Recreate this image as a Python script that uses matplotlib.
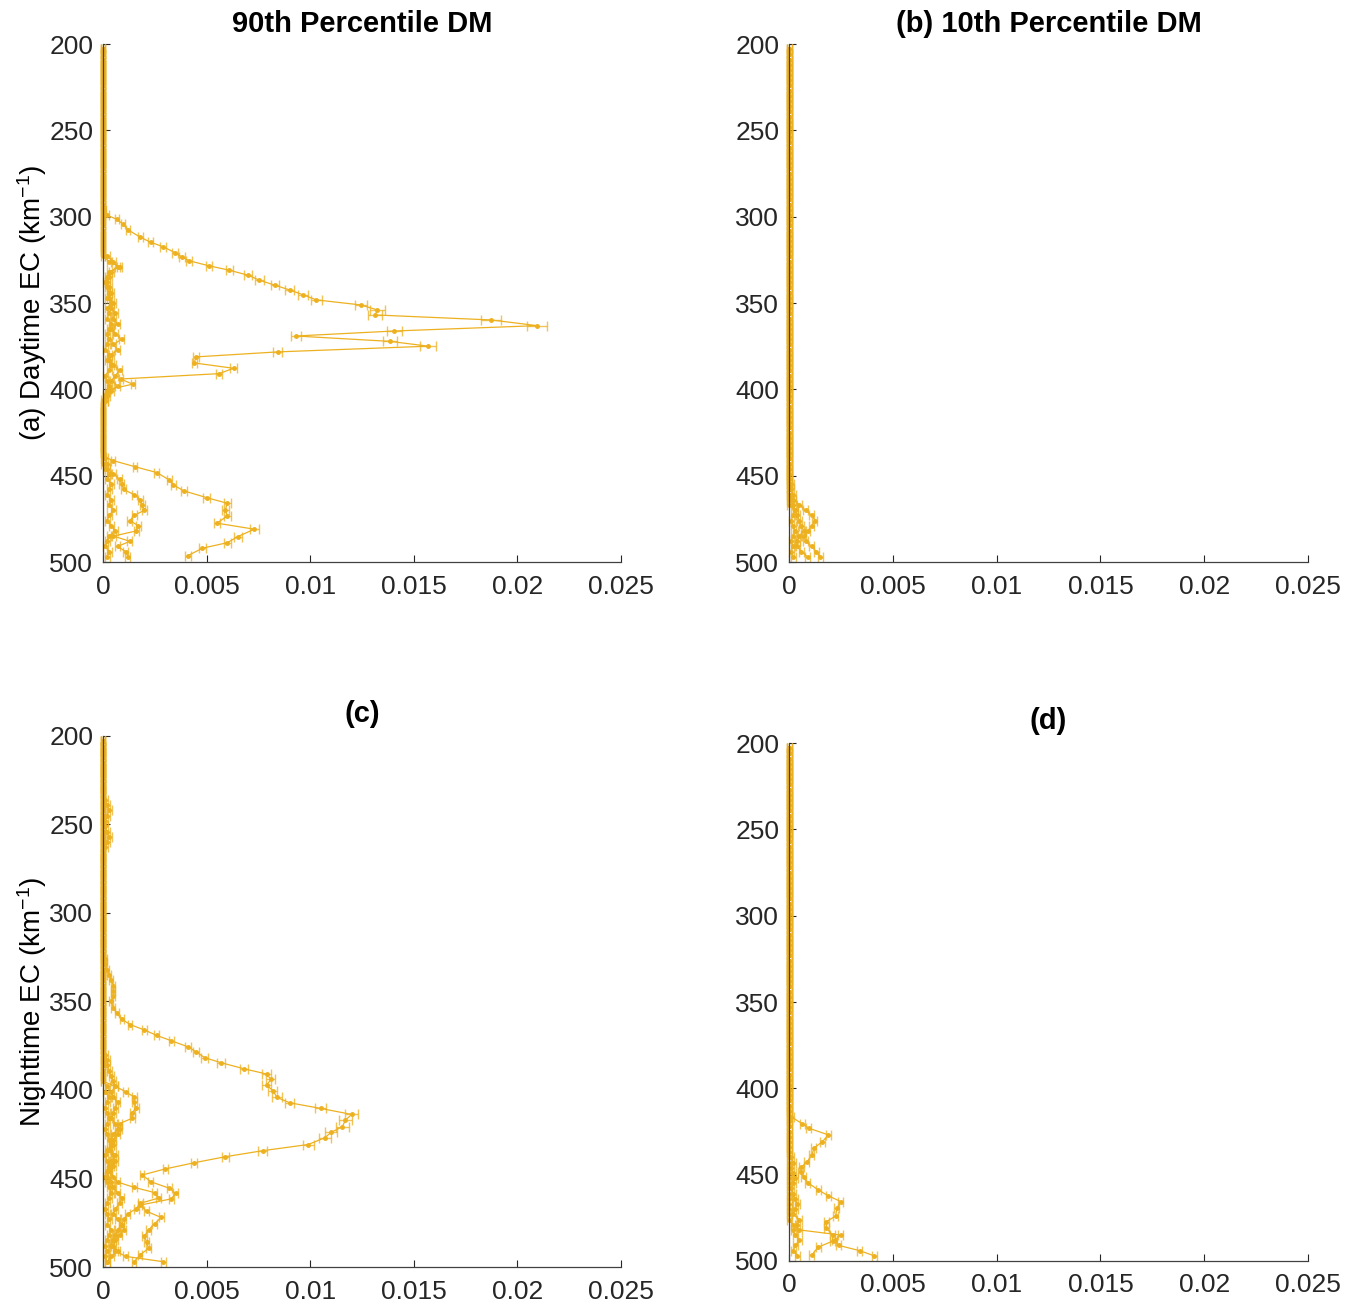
import matplotlib
matplotlib.use('Agg')
import matplotlib.pyplot as plt

plt.rcParams['font.family'] = ['Liberation Sans', 'DejaVu Sans']
plt.rcParams['mathtext.fontset'] = 'custom'
plt.rcParams['mathtext.rm'] = 'Liberation Sans'
plt.rcParams['mathtext.it'] = 'Liberation Sans:italic'

ORANGE = '#EDB120'

# common altitude grid (km) for the near-zero profiles
ALT = list(range(203, 498, 3))
SMALL_ERR = [1.2e-4] * len(ALT)

x_ticks = [0, 0.005, 0.01, 0.015, 0.02, 0.025]
x_ticklabels = ['0', '0.005', '0.01', '0.015', '0.02', '0.025']
y_ticks = [200, 250, 300, 350, 400, 450, 500]

# ---- (a) daytime, 90th percentile ----
a1_alt = (list(range(203, 294, 3)) +
          [296, 299, 301.5, 304.4, 307.7, 311.9, 314.8, 317.4, 320.8, 323.2, 325.5, 328.4,
           331, 333.9, 336.8, 339.7, 342.4, 345.3, 348.2, 351.1, 354, 356.9, 359.8, 363.1,
           366.2, 369.1, 372.2, 375, 378.3, 381.2, 384.7, 387.8, 390.9, 394, 397, 400, 403] +
          list(range(406, 437, 3)) +
          [439, 441.3, 444.8, 448.2, 452.5, 455.4, 458.8, 462.7, 466, 469.8, 473.3, 477.5,
           481, 485.3, 488.8, 492, 496.3])
a1_val = ([0.0] * 31 +
          [0.00005, 0.00018, 0.00066, 0.00098, 0.00122, 0.0018, 0.0023, 0.0029, 0.00347, 0.0038,
           0.00415, 0.0051, 0.0061, 0.0070, 0.00755, 0.0083, 0.0090, 0.00967, 0.0103, 0.01244,
           0.01324, 0.01313, 0.01873, 0.02095, 0.01406, 0.0093, 0.01384, 0.0157, 0.00843,
           0.00449, 0.0044, 0.0063, 0.0056, 0.00085, 0.00143, 0.0003, 0.0001] +
          [0.0] * 11 +
          [0.00005, 0.0005, 0.00154, 0.0026, 0.0032, 0.0034, 0.0039, 0.0050, 0.0060, 0.0059,
           0.0060, 0.0055, 0.0073, 0.0065, 0.0060, 0.0048, 0.0041])
a1_err = ([1.2e-4] * 31 +
          [0.0001, 0.0001, 0.0001, 0.0001, 0.0001, 0.00012, 0.00012, 0.00013, 0.00013, 0.00014,
           0.00014, 0.00015, 0.00016, 0.00018, 0.0002, 0.0002, 0.00022, 0.00024, 0.00026, 0.0003,
           0.00035, 0.00033, 0.00047, 0.0005, 0.00035, 0.00024, 0.00034, 0.00038, 0.00022,
           0.00013, 0.00012, 0.00016, 0.00015, 0.0001, 0.0001, 0.0001, 0.0001] +
          [1.2e-4] * 11 +
          [0.0001, 0.0001, 0.0001, 0.00012, 0.00012, 0.00012, 0.00014, 0.00016, 0.00018, 0.00018,
           0.00018, 0.00016, 0.00022, 0.0002, 0.00018, 0.00015, 0.00013])

a2_val = ([0.0] * 40 +
          [0.0002, 0.0005, 0.0007, 0.0004, 0.0003, 0.0002, 0.0003, 0.0004, 0.0003, 0.0005,
           0.0004, 0.0006, 0.0005, 0.0007, 0.0004, 0.0006, 0.0009, 0.0005, 0.0007, 0.0004,
           0.0003, 0.0005, 0.0008, 0.0006, 0.0004, 0.0007, 0.0004, 0.0002, 0.0001] +
          [0.0] * 12 +
          [0.0002, 0.0005, 0.0008, 0.0009, 0.0010, 0.0015, 0.0018, 0.0019, 0.0020, 0.0015,
           0.0013, 0.0017, 0.0016, 0.0005, 0.0013, 0.0007, 0.0011, 0.0012])

a3_val = ([0.0] * 41 +
          [0.0003, 0.0008, 0.0003, 0.0002, 0.0001, 0.0002, 0.0003, 0.0002, 0.0004, 0.0002,
           0.0003, 0.0002, 0.0004, 0.0003, 0.0002, 0.0003, 0.0002, 0.0001, 0.0003, 0.0002,
           0.0004, 0.0003, 0.0001, 0.0002, 0.0003, 0.0002, 0.0001, 0.0001, 0.0] +
          [0.0] * 9 +
          [0.0001, 0.0002, 0.0001, 0.0003, 0.0002, 0.0004, 0.0003, 0.0002, 0.0004, 0.0003,
           0.0005, 0.0003, 0.0002, 0.0004, 0.0006, 0.0003, 0.0002, 0.0001, 0.0003, 0.0002])

# ---- (b) daytime, 10th percentile ----
b1_val = ([0.0] * 87 +
          [0.0002, 0.0005, 0.0008, 0.0011, 0.00125, 0.0011, 0.0009, 0.0007, 0.0008, 0.0011,
           0.0013, 0.0015])
b2_val = ([0.0] * 89 +
          [0.0003, 0.0004, 0.0005, 0.0006, 0.0007, 0.0005, 0.0004, 0.0004, 0.0006, 0.0009])
b3_val = ([0.0] * 84 +
          [0.0001, 0.0001, 0.0002, 0.0001, 0.0002, 0.0003, 0.0002, 0.0001, 0.0002, 0.0003,
           0.0002, 0.0001, 0.0002, 0.0001, 0.0002])

# ---- (c) nighttime, 90th percentile ----
c1_alt = (list(range(203, 324, 3)) +
          [326, 329, 332, 335, 338, 341, 344, 347, 350, 353.5, 356.7, 360.1, 363, 366.1, 369.2,
           372.2, 375.6, 378.5, 381.7, 384.6, 388, 391, 394, 397.2, 400.4, 404.2, 407.2, 410.4,
           413.8, 417, 420.7, 424, 427, 430.8, 434.3, 437.7, 441.1, 444.6, 448, 451.8, 455.5,
           458.4, 461.5, 465, 468.5, 472, 475.5, 479, 482.5, 486, 489.5, 493, 497])
c1_val = ([0.0] * 41 +
          [0.0001, 0.0001, 0.0002, 0.0003, 0.0004, 0.0005, 0.0005, 0.0005, 0.0004, 0.0005,
           0.00066, 0.00093, 0.0013, 0.002, 0.0026, 0.0033, 0.0041, 0.0045, 0.0049, 0.0057,
           0.0068, 0.0079, 0.0081, 0.0079, 0.0082, 0.0084, 0.0090, 0.0105, 0.0120, 0.0117,
           0.01155, 0.0110, 0.0107, 0.0099, 0.0077, 0.0059, 0.0044, 0.0030, 0.0019, 0.0023,
           0.0032, 0.0035, 0.0033, 0.0018, 0.0021, 0.0028, 0.0025, 0.0022, 0.0020, 0.0021,
           0.0022, 0.0018, 0.0015])
c1_err = ([1.2e-4] * 41 + [0.0001] * 14 +
          [0.00012, 0.00013, 0.00014, 0.00015, 0.00016, 0.00018, 0.0002, 0.00022, 0.00022,
           0.00022, 0.00022, 0.00023, 0.00024, 0.00027, 0.0003, 0.0003, 0.0003, 0.00028,
           0.00028, 0.00026, 0.00022, 0.00018, 0.00015, 0.00012, 0.0001, 0.00011, 0.00013,
           0.00013, 0.00013, 0.0001, 0.00011, 0.00012, 0.00012, 0.00011, 0.00011, 0.00011,
           0.00011, 0.0001, 0.0001])

c2_val = ([0.0] * 11 +
          [0.0001, 0.0002, 0.0003, 0.0002, 0.0001, 0.0001, 0.0002, 0.0003, 0.0002, 0.0001] +
          [0.0] * 44 +
          [0.0006, 0.0011, 0.0015, 0.0015, 0.0016, 0.0014, 0.0014, 0.0008, 0.0007, 0.0005] +
          [0.0004, 0.0005, 0.0003, 0.0006, 0.0004, 0.0005, 0.0003, 0.0005, 0.0007, 0.0015,
           0.0025, 0.0027, 0.0018, 0.0016, 0.0012, 0.0010, 0.0009, 0.0007, 0.0006, 0.0005,
           0.0004, 0.0006, 0.0011, 0.0029])
c3_val = ([0.0] * 59 +
          [0.0001, 0.0002, 0.0002, 0.0003, 0.0004, 0.0005, 0.0006, 0.0004, 0.0005, 0.0007,
           0.0006, 0.0005, 0.0004, 0.0006, 0.0008, 0.0007, 0.0005, 0.0004, 0.0003, 0.0005,
           0.0006, 0.0004, 0.0003, 0.0002, 0.0004, 0.0005, 0.0007, 0.0009, 0.0008, 0.0006,
           0.0005, 0.0007, 0.0009, 0.0010, 0.0008, 0.0006, 0.0005, 0.0007, 0.0004, 0.0002])
c4_val = ([0.0] * 65 +
          [0.0002, 0.0001, 0.0003, 0.0002, 0.0001, 0.0002, 0.0003, 0.0002, 0.0001, 0.0002,
           0.0003, 0.0004, 0.0002, 0.0001, 0.0002, 0.0003, 0.0002, 0.0001, 0.0002, 0.0003,
           0.0004, 0.0003, 0.0002, 0.0001, 0.0002, 0.0003, 0.0002, 0.0004, 0.0003, 0.0002,
           0.0001, 0.0002, 0.0001, 0.0002])

# ---- (d) nighttime, 10th percentile ----
d1_alt = (list(range(203, 414, 3)) +
          [416.4, 420.6, 423.1, 427, 430.9, 434.7, 438.6, 442.9, 445.5, 448.3, 451.5, 454.6,
           458.8, 462.3, 465.6, 469.4, 473.9, 477.2, 481, 484.9, 488.5, 492, 496.5])
d1_val = ([0.0] * 71 +
          [0.0001, 0.00064, 0.00096, 0.0019, 0.0016, 0.0012, 0.0011, 0.00085, 0.0006, 0.00056,
           0.0007, 0.0009, 0.0014, 0.0019, 0.0025, 0.0023, 0.00225, 0.0018, 0.0018, 0.0021,
           0.0021, 0.0014, 0.0011])
d1_err = [1.2e-4] * (71 + 23)
d2_val = [0.0] * 92 + [0.0002, 0.0005, 0.0025, 0.0022, 0.0024, 0.0034, 0.0041]
d3_val = ([0.0] * 79 +
          [0.0001, 0.0002, 0.0001, 0.0002, 0.0003, 0.0002, 0.0001, 0.0002, 0.0003, 0.0004,
           0.0003, 0.0002, 0.0005, 0.0004, 0.0002, 0.0003, 0.0005, 0.0003, 0.0002, 0.0004])


def draw(ax, alt, val, err):
    eb = ax.errorbar(val, alt, xerr=err, color=ORANGE, lw=0.9, marker='.', ms=5,
                     elinewidth=1.0, capsize=3.8, capthick=1.0, clip_on=False)
    for cap in eb[1]:
        cap.set_alpha(0.75)
    for bar in eb[2]:
        bar.set_alpha(0.75)


def style(ax):
    ax.set_xlim(0, 0.025)
    ax.set_ylim(500, 200)
    ax.set_xticks(x_ticks)
    ax.set_xticklabels(x_ticklabels)
    ax.set_yticks(y_ticks)
    for s in ['top', 'right']:
        ax.spines[s].set_visible(False)
    for s in ['left', 'bottom']:
        ax.spines[s].set_color('#404040')
        ax.spines[s].set_linewidth(0.9)
    ax.tick_params(direction='in', length=5, width=0.8, color='#262626',
                   labelsize=19, labelcolor='#262626')
    ax.tick_params(axis='x', pad=9)
    ax.tick_params(axis='y', pad=7)


fig = plt.figure(figsize=(13.59, 13.07), dpi=100)
ax_a = fig.add_axes([0.0758, 0.5700, 0.3812, 0.3963])
ax_b = fig.add_axes([0.5806, 0.5700, 0.3819, 0.3963])
ax_c = fig.add_axes([0.0758, 0.0306, 0.3812, 0.4063])
ax_d = fig.add_axes([0.5806, 0.0352, 0.3819, 0.3963])

draw(ax_a, ALT, a3_val, SMALL_ERR)
draw(ax_a, ALT, a2_val, SMALL_ERR)
draw(ax_a, a1_alt, a1_val, a1_err)

draw(ax_b, ALT, b3_val, SMALL_ERR)
draw(ax_b, ALT, b2_val, SMALL_ERR)
draw(ax_b, ALT, b1_val, SMALL_ERR)

draw(ax_c, ALT, c4_val, SMALL_ERR)
draw(ax_c, ALT, c3_val, SMALL_ERR)
draw(ax_c, ALT, c2_val, SMALL_ERR)
draw(ax_c, c1_alt, c1_val, c1_err)

draw(ax_d, ALT, d3_val, SMALL_ERR)
draw(ax_d, ALT, d2_val, SMALL_ERR)
draw(ax_d, d1_alt, d1_val, d1_err)

for ax in [ax_a, ax_b, ax_c, ax_d]:
    style(ax)

title_kw = dict(fontsize=21, fontweight='bold')
ax_a.set_title('90th Percentile DM', pad=9, **title_kw)
ax_b.set_title('(b) 10th Percentile DM', pad=9, **title_kw)
ax_c.set_title('(c)', pad=10, **title_kw)
ax_d.set_title('(d)', pad=10, **title_kw)

ax_a.set_ylabel('(a) Daytime EC (km$^{-1}$)', fontsize=20, labelpad=0)
ax_c.set_ylabel('Nighttime EC (km$^{-1}$)', fontsize=20, labelpad=0)

fig.savefig('out.png', dpi=100)
